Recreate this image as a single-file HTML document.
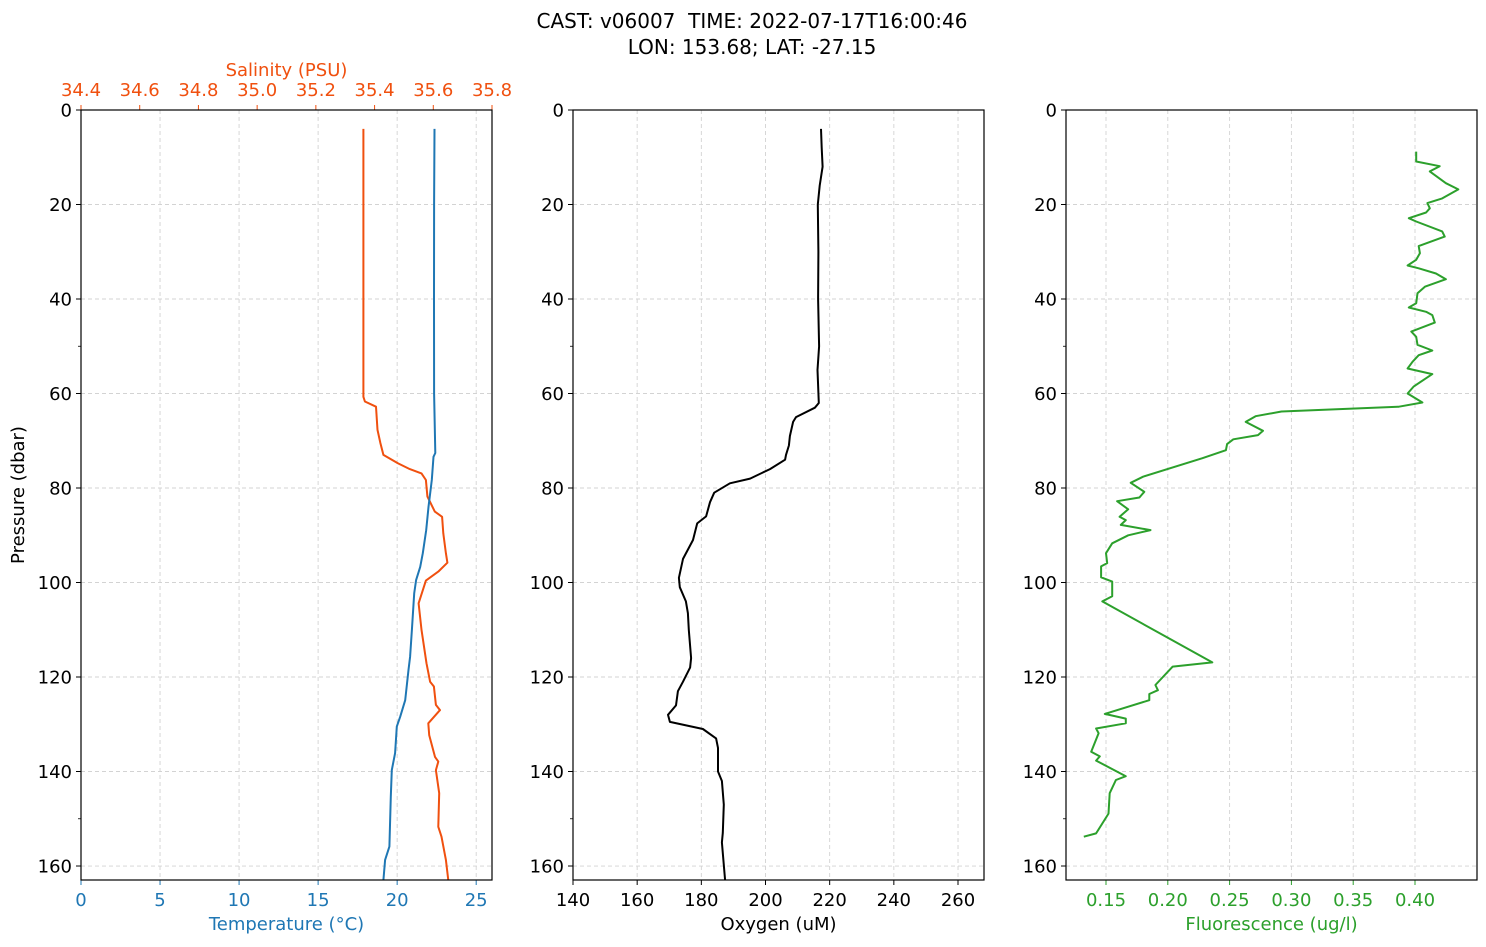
<!DOCTYPE html>
<html><head><meta charset="utf-8"><style>
html,body{margin:0;padding:0;background:#fff;}
svg{display:block;font-family:"DejaVu Sans","Liberation Sans",sans-serif;}
</style></head><body>
<svg id="chart" width="1486" height="947" viewBox="0 0 1486 947" xmlns="http://www.w3.org/2000/svg">
<text x="752" y="28" font-size="20" text-anchor="middle" xml:space="preserve">CAST: v06007  TIME: 2022-07-17T16:00:46</text>
<text x="752" y="54" font-size="20" text-anchor="middle">LON: 153.68; LAT: -27.15</text>
</svg>
<script>
// ---- data ----
const tempP = [4,20,40,60,72.6,73.4,78.3,84,88.9,93.8,96.7,99.5,102.3,110,115.7,118.5,124.9,128.4,130.5,136.1,139.7,145.3,155.9,158.7,163];
const tempV = [22.36,22.34,22.33,22.34,22.41,22.30,22.19,21.98,21.84,21.62,21.46,21.20,21.08,20.93,20.82,20.72,20.51,20.19,19.98,19.87,19.66,19.60,19.51,19.24,19.13];
const salP = [4,30,60.7,61.7,62.8,67.7,70.5,73,74.8,76,76.9,78.3,81.8,85,86.1,89.6,93.8,95.8,97.7,99.6,104.4,110,117.1,121,122,125.9,127,129.8,132.3,136.9,137.9,139.7,144.6,151.7,153.8,158.7,163];
const salV = [35.362,35.362,35.362,35.367,35.405,35.41,35.42,35.43,35.48,35.52,35.56,35.575,35.58,35.605,35.63,35.634,35.643,35.648,35.617,35.575,35.55,35.56,35.577,35.589,35.602,35.609,35.623,35.583,35.586,35.606,35.617,35.609,35.62,35.617,35.628,35.643,35.651];
const oxyP = [4,8,12,16,20,30,40,50,55,62,63,65,66,69,71,73,74,76,78,79,81,83,86,87.5,91,95,99,101,104,106.5,110,116,118,121,123,126,128,129.5,131,133,135,140,142,147,153,155,163];
const oxyV = [217.3,217.5,217.8,216.9,216.3,216.5,216.4,216.7,216.2,216.6,215.4,209.5,208.6,207.6,207.3,206.4,206.1,201.4,195.2,188.9,184,182.7,181.5,178.7,177.4,174.3,173,173.3,175.2,175.8,176.1,176.8,176.5,174.3,172.7,172.1,169.6,170.2,180.5,184.6,185.2,185.2,186.4,187,186.7,186.4,187.4];
const fluP = [8.8,10.9,11.9,13.0,15.5,16.8,18.7,19.7,20.8,21.7,22.9,23.6,25.7,26.8,28.8,30.3,31.7,32.9,33.5,34.6,35.8,37.4,38.8,40.9,41.8,42.7,43.4,45.0,46.9,48.0,49.7,50.9,51.9,53.3,54.7,55.9,58.5,60.0,61.9,62.8,63.8,64.8,66.0,67.9,68.8,69.7,70.7,72.0,73.7,77.6,78.9,80.8,82.0,82.8,84.5,86.1,86.8,87.8,88.9,90.0,91.7,93.8,95.9,96.6,98.9,99.8,102.9,104.0,116.9,117.8,121.7,122.8,123.6,124.9,127.8,128.8,129.8,130.9,131.9,135.8,136.8,137.7,141.0,141.8,144.6,148.9,153.1,153.8];
const fluV = [0.401,0.401,0.420,0.412,0.425,0.435,0.422,0.410,0.412,0.409,0.395,0.401,0.422,0.424,0.403,0.404,0.401,0.394,0.403,0.417,0.425,0.408,0.402,0.401,0.395,0.409,0.414,0.416,0.397,0.401,0.402,0.414,0.403,0.398,0.394,0.414,0.399,0.394,0.406,0.387,0.292,0.271,0.263,0.277,0.273,0.253,0.248,0.247,0.228,0.180,0.170,0.181,0.177,0.159,0.168,0.161,0.166,0.162,0.186,0.168,0.155,0.150,0.151,0.146,0.146,0.155,0.155,0.147,0.236,0.204,0.190,0.192,0.185,0.185,0.149,0.166,0.166,0.142,0.144,0.138,0.145,0.142,0.166,0.158,0.153,0.152,0.142,0.132];
const yTicks = [0,20,40,60,80,100,120,140,160];
const yMinor = [50,150];
const tempTicks = [0,5,10,15,20,25];
const salTicks = [34.4,34.6,34.8,35.0,35.2,35.4,35.6,35.8];
const oxyTicks = [140,160,180,200,220,240,260];
const fluTicks = [0.15,0.20,0.25,0.30,0.35,0.40];

// ---- layout ----
const svg = document.getElementById('chart');
const NS = 'http://www.w3.org/2000/svg';
const TOP = 110, BOT = 880, PMAX = 162.96;
const yS = p => TOP + p / PMAX * (BOT - TOP);
function mk(tag, attrs, parent) {
  const e = document.createElementNS(NS, tag);
  for (const k in attrs) e.setAttribute(k, attrs[k]);
  (parent || svg).appendChild(e);
  return e;
}
function lin(d0, d1, r0, r1) { return v => r0 + (v - d0) / (d1 - d0) * (r1 - r0); }

const panels = [
  {x0: 81, x1: 492, name: 'temperature-salinity-panel',
   xs: lin(0, 26, 81, 492), ticks: tempTicks, fmt: v => String(v), color: '#1f77b4',
   label: 'Temperature (\u00B0C)', labelName: 'x-axis-title-temperature'},
  {x0: 573, x1: 984, name: 'oxygen-panel',
   xs: lin(140, 268.1, 573, 984), ticks: oxyTicks, fmt: v => String(v), color: '#000',
   label: 'Oxygen (uM)', labelName: 'x-axis-title-oxygen'},
  {x0: 1066, x1: 1477, name: 'fluorescence-panel',
   xs: lin(0.15, 0.40, 1106, 1415), ticks: fluTicks, fmt: v => v.toFixed(2), color: '#2ca02c',
   label: 'Fluorescence (ug/l)', labelName: 'x-axis-title-fluorescence'}
];

panels.forEach((P) => {
  const g = mk('g', {});
  
  
  yTicks.forEach(t => {
    const l = mk('line', {x1: P.x0, x2: P.x1, y1: yS(t), y2: yS(t), stroke: '#d3d3d3', 'stroke-width': 0.9, 'stroke-dasharray': '4,3'}, g);
    
    
  });
  P.ticks.forEach(t => {
    const x = P.xs(t);
    const l = mk('line', {x1: x, x2: x, y1: TOP, y2: BOT, stroke: '#d3d3d3', 'stroke-width': 0.9, 'stroke-dasharray': '4,3'}, g);
    
    
    mk('line', {x1: x, x2: x, y1: BOT, y2: BOT + 5, stroke: P.color, 'stroke-width': 1}, g);
    const tx = mk('text', {x: x, y: BOT + 26, 'font-size': 18, 'text-anchor': 'middle', fill: P.color}, g);
    tx.textContent = P.fmt(t);
    
    
  });
  yTicks.forEach(t => {
    mk('line', {x1: P.x0 - 5, x2: P.x0, y1: yS(t), y2: yS(t), stroke: '#000', 'stroke-width': 1}, g);
    const tx = mk('text', {x: P.x0 - 9, y: yS(t) + 6.5, 'font-size': 18, 'text-anchor': 'end'}, g);
    tx.textContent = t;
    
    
  });
  yMinor.forEach(t => mk('line', {x1: P.x0 - 3, x2: P.x0, y1: yS(t), y2: yS(t), stroke: '#000', 'stroke-width': 0.8}, g));
  const xl = mk('text', {x: (P.x0 + P.x1) / 2, y: 930, 'font-size': 18, 'text-anchor': 'middle', fill: P.color}, g);
  xl.textContent = P.label;
  
  
  P.g = g;
});

function series(P, pArr, vArr, xs, color, name) {
  const d = pArr.map((p, i) => (i ? 'L' : 'M') + xs(vArr[i]).toFixed(1) + ',' + yS(p).toFixed(1)).join('');
  const path = mk('path', {d: d, fill: 'none', stroke: color, 'stroke-width': 2, 'stroke-linejoin': 'round'}, P.g);
  
  
}
const salX = lin(34.4, 35.8, 81, 492);
series(panels[0], salP, salV, salX, '#f0500f', 'salinity-line');
series(panels[0], tempP, tempV, panels[0].xs, '#1f77b4', 'temperature-line');
series(panels[1], oxyP, oxyV, panels[1].xs, '#000', 'oxygen-line');
series(panels[2], fluP, fluV, panels[2].xs, '#2ca02c', 'fluorescence-line');

salTicks.forEach(t => {
  const x = salX(t);
  mk('line', {x1: x, x2: x, y1: TOP - 5, y2: TOP, stroke: '#f0500f', 'stroke-width': 1});
  const tx = mk('text', {x: x, y: 96, 'font-size': 18, 'text-anchor': 'middle', fill: '#f0500f'});
  tx.textContent = t.toFixed(1);
  
  
});
const sl = mk('text', {x: 286.5, y: 76, 'font-size': 18, 'text-anchor': 'middle', fill: '#f0500f'});
sl.textContent = 'Salinity (PSU)';



const yl = mk('text', {x: 24, y: 495, 'font-size': 18, 'text-anchor': 'middle', transform: 'rotate(-90 24 495)'});
yl.textContent = 'Pressure (dbar)';



panels.forEach(P => {
  const r = mk('rect', {x: P.x0, y: TOP, width: P.x1 - P.x0, height: BOT - TOP, fill: 'none', stroke: '#000', 'stroke-width': 1.2});
  
  
});
</script>
</body></html>
